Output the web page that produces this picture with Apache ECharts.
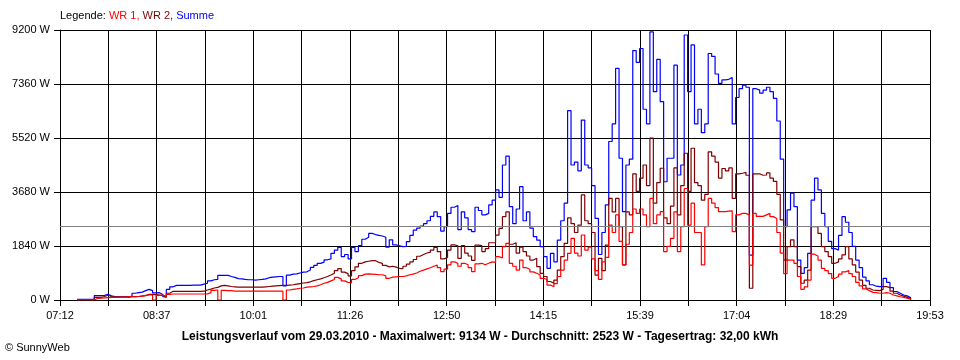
<!DOCTYPE html>
<html>
<head>
<meta charset="utf-8">
<script src="https://cdn.jsdelivr.net/npm/echarts@6/dist/echarts.min.js"></script>
<style>
html,body{margin:0;padding:0;background:#fff;}
#chart{width:960px;height:360px;}
</style>
</head>
<body>
<div id="chart"></div>
<script>
// ---- data ----
const axisStart = "07:12";
const axisEnd = "19:53";
const tickLabels = ["07:12","08:37","10:01","11:26","12:50","14:15","15:39","17:04","18:29","19:53"];
const yMax = 9200;
const yStep = 1840;
const startTime = "07:27";
const stepMinutes = 3;
const average = 2523;
const legendText = ["WR 1", "WR 2", "Summe"];
const footerText = "Leistungsverlauf vom 29.03.2010 - Maximalwert: 9134 W - Durchschnitt: 2523 W - Tagesertrag: 32,00 kWh";

const summe = [
25,25,25,25,30,150,150,160,195,140,
115,110,100,115,90,130,230,250,270,320,
360,320,240,250,190,110,360,450,500,500,
500,500,500,505,505,505,540,570,650,690,
700,840,840,840,800,770,730,720,700,690,
690,680,690,700,720,760,780,790,800,800,
480,850,880,890,920,950,960,1020,1110,1180,
1250,1290,1370,1400,1590,1700,1795,1480,1550,1400,
1790,1650,1850,2070,2135,2270,2230,2200,2180,2140,
1800,2050,1880,1850,1820,1830,1990,2200,2380,2450,
2520,2600,2700,2850,3000,2840,2350,2500,2950,3160,
3220,2400,3000,2800,2400,2330,3160,3050,2900,2950,
3240,3400,3750,3500,4600,4900,3180,2600,3100,3860,
2700,3000,2450,2160,2040,1820,1480,1080,1590,1300,
2040,2700,3300,6450,4600,4700,4400,6130,4600,4500,
3900,2780,1550,2300,3240,5400,6000,7890,4830,3010,
4600,4800,8500,8100,8570,6500,6000,9134,7100,8200,
6760,4030,4830,4830,8000,4260,4600,9030,7100,8690,
6000,6500,5700,6000,8400,8300,7700,7380,7500,7520,
7580,6000,6900,7200,7320,7250,1530,7200,7150,7050,
7150,7250,7100,6870,6100,4800,2500,3070,3640,3180,
1360,910,1100,1590,3400,4150,3750,2950,2500,2000,
1750,1700,2200,2840,2650,2300,1830,1360,1100,780,
650,520,470,455,460,740,600,420,290,230,
170,140,80,20
];

const wr2 = [
0,0,0,0,0,90,90,120,160,120,
110,110,110,110,110,110,115,120,130,150,
190,190,180,170,150,90,230,295,295,295,
295,295,295,295,295,295,300,340,370,410,
430,480,500,480,460,450,440,440,440,440,
440,440,440,440,450,460,470,480,490,495,
500,510,520,540,560,580,590,620,660,690,
720,760,800,850,910,1000,1070,950,900,820,
1000,1130,1250,1300,1320,1340,1340,1280,1250,1180,
1130,1150,1120,1080,1070,1150,1220,1300,1380,1490,
1550,1600,1630,1700,1790,1650,1400,1450,1700,1880,
1850,1420,1850,1600,1500,1350,1870,1850,1650,1750,
1950,1950,2210,2440,2840,3000,1900,1950,1600,1800,
1650,1500,1360,1420,1140,910,800,630,570,680,
1020,1480,1930,2800,2600,2300,2550,3580,2700,2600,
2300,850,1420,1000,1870,3460,3000,3460,2500,1200,
3000,2900,4300,3700,4150,4600,3900,5520,3300,4000,
4490,2800,2600,3200,4500,2900,3900,5000,3700,5170,
4000,3900,3400,3600,5050,4900,4700,4150,4480,4400,
4500,3460,4300,4320,4350,4250,400,4300,4300,4250,
4260,4330,4150,4040,3600,2730,1360,1820,2050,1820,
1140,570,680,1020,2500,2500,2270,1820,1650,1480,
1250,1300,1400,1540,1820,1400,1200,950,680,500,
400,340,330,320,360,455,420,300,230,170,
130,90,50,20
];

const wr1 = [
0,0,0,0,0,57,60,70,80,85,
91,91,95,100,105,110,113,120,140,160,
170,170,0,160,170,120,190,204,204,204,
204,204,204,204,204,204,204,210,250,330,
340,0,330,320,318,300,300,300,300,300,
300,300,300,300,300,300,300,300,300,300,
0,340,363,380,400,409,440,450,460,480,
520,570,600,650,700,770,720,650,600,580,
700,760,830,880,890,880,870,860,860,820,
740,780,790,800,800,820,860,880,920,980,
1020,1060,1100,1150,1190,1100,970,1050,1200,1300,
1250,1150,1250,1200,1100,970,1230,1250,1200,1250,
1300,1280,1476,1430,1820,1930,1250,1150,1020,1360,
1100,1050,960,910,850,740,700,510,450,560,
800,1020,1360,1590,2100,1600,1500,2215,1700,1800,
1400,1000,700,1300,1450,2550,2300,2900,2000,1200,
1900,2300,3100,2950,3100,2900,2500,3460,2600,2900,
3010,1650,1830,2100,3000,1650,2500,3800,2550,3300,
2300,2300,1200,2500,3460,3300,3150,3010,3010,3030,
3040,2330,2900,2950,2950,2900,1190,2950,2850,2850,
2900,2950,2840,2780,2300,1600,900,1360,1360,1250,
800,365,450,680,1560,1500,1360,1080,1000,900,
740,800,880,960,1000,900,800,600,480,380,
320,260,250,230,230,250,230,170,140,110,
90,60,30,20
];

// ---- build ----
function toMin(s){ const p = s.split(':'); return (+p[0])*60 + (+p[1]); }
const axisSpan = toMin(axisEnd) - toMin(axisStart);
const xInterval = axisSpan / 18;
const offset0 = toMin(startTime) - toMin(axisStart);
function pairs(arr){ return arr.map((v,i)=>[offset0 + i*stepMinutes, v]); }

const FONT = '"Liberation Sans", Arial, sans-serif';
const chart = echarts.init(document.getElementById('chart'), null, {renderer:'canvas'});
const lineBase = {type:'line', showSymbol:false, symbol:'none', step:'end', animation:false, silent:true};

chart.setOption({
  animation:false,
  backgroundColor:'#fff',
  grid:{left:60, right:30, top:30, bottom:60, containLabel:false},
  xAxis:{
    type:'value', min:0, max:axisSpan, interval:xInterval,
    axisLine:{show:true, lineStyle:{color:'#000', width:1}},
    axisTick:{show:true, length:6, lineStyle:{color:'#000'}},
    splitLine:{show:true, lineStyle:{color:'#000', width:1}},
    axisLabel:{
      color:'#000', fontSize:11, fontFamily:FONT, margin:10, showMinLabel:true, showMaxLabel:true,
      formatter:function(v){ const k = Math.round(v/xInterval); return (k%2===0) ? (tickLabels[k/2]||'') : ''; }
    }
  },
  yAxis:{
    type:'value', min:0, max:yMax, interval:yStep,
    axisLine:{show:true, lineStyle:{color:'#000', width:1}},
    axisTick:{show:true, length:6, lineStyle:{color:'#000'}},
    splitLine:{show:true, lineStyle:{color:'#000', width:1}},
    axisLabel:{color:'#000', fontSize:11, fontFamily:FONT, margin:10, formatter:function(v){return v+' W';}}
  },
  series:[
    Object.assign({}, lineBase, {name:'Summe', data:pairs(summe), lineStyle:{color:'#0000ff', width:1.2}, itemStyle:{color:'#0000ff'},
      markLine:{silent:true, symbol:'none', label:{show:false}, lineStyle:{color:'#808080', width:1, type:'solid'}, data:[{yAxis:average}], animation:false}}),
    Object.assign({}, lineBase, {name:'WR 2', data:pairs(wr2), lineStyle:{color:'#800000', width:1.2}, itemStyle:{color:'#800000'}}),
    Object.assign({}, lineBase, {name:'WR 1', data:pairs(wr1), lineStyle:{color:'#ff0000', width:1.2}, itemStyle:{color:'#ff0000'}})
  ],
  graphic:[
    {type:'text', left:60, top:10, silent:true, style:{
      text:'{k|Legende: }{a|'+legendText[0]+', }{b|'+legendText[1]+', }{c|'+legendText[2]+'}',
      font:'11px '+FONT,
      rich:{k:{fill:'#000', fontSize:11, fontFamily:FONT}, a:{fill:'#ff0000', fontSize:11, fontFamily:FONT}, b:{fill:'#800000', fontSize:11, fontFamily:FONT}, c:{fill:'#0000ff', fontSize:11, fontFamily:FONT}}
    }},
    {type:'text', x:480, y:337, silent:true, style:{text:footerText, fill:'#000', font:'bold 12px '+FONT, align:'center', verticalAlign:'middle'}},
    {type:'text', x:5, y:348, silent:true, style:{text:'\u00a9 SunnyWeb', fill:'#000', font:'11px '+FONT, align:'left', verticalAlign:'middle'}}
  ]
});
</script>
</body>
</html>
